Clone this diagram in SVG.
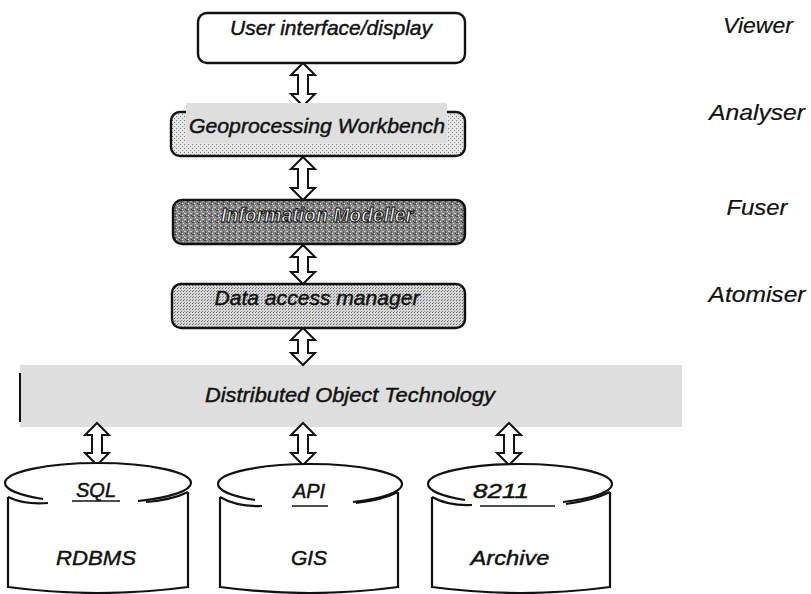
<svg xmlns="http://www.w3.org/2000/svg" width="811" height="594" viewBox="0 0 811 594">
<style>
text{font-family:"Liberation Sans",Arial,sans-serif;font-style:italic;fill:#111;stroke:#111;stroke-width:0.45}
.lbl{font-size:21px}
.side{font-size:22px;stroke-width:0.2}
.box{stroke:#111;stroke-width:2.4}
.arr{fill:#fff;stroke:#111;stroke-width:2;stroke-linejoin:miter}
.ln{fill:none;stroke:#111;stroke-width:2.2}
.db{font-size:21px}
.api{font-size:20px}
.ul{stroke:#111;stroke-width:1.5}
</style>
<defs>
<pattern id="pLight" width="4" height="4" patternUnits="userSpaceOnUse">
<rect width="4" height="4" fill="#e6e6e6"/>
<rect x="0" y="0" width="1" height="1" fill="#777"/>
<rect x="2" y="2" width="1" height="1" fill="#888"/>
</pattern>
<pattern id="pMed" width="3" height="3" patternUnits="userSpaceOnUse">
<rect width="3" height="3" fill="#d6d6d6"/>
<rect x="0" y="0" width="1" height="1" fill="#666"/>
<rect x="1" y="2" width="1" height="1" fill="#888"/>
</pattern>
<pattern id="pDark" width="6" height="6" patternUnits="userSpaceOnUse">
<rect width="6" height="6" fill="#858585"/>
<rect x="0" y="0" width="2" height="1" fill="#444"/>
<rect x="3" y="1" width="1" height="1" fill="#ddd"/>
<rect x="1" y="3" width="1" height="2" fill="#555"/>
<rect x="4" y="3" width="2" height="1" fill="#cfcfcf"/>
<rect x="2" y="5" width="1" height="1" fill="#eee"/>
<rect x="5" y="5" width="1" height="1" fill="#333"/>
</pattern>
</defs>

<g id="band">
<rect x="20" y="365" width="662" height="62" fill="#dedede"/>
<line x1="20" y1="373" x2="20" y2="422" stroke="#111" stroke-width="2"/>
<text x="350" y="402" text-anchor="middle" class="lbl" textLength="290" lengthAdjust="spacingAndGlyphs">Distributed Object Technology</text>
</g>

<g id="connectors">
<path class="arr" d="M303,63 L315,75 L308,75 L308,94 L315,94 L303,106 L291,94 L298,94 L298,75 L291,75 Z"/>
<path class="arr" d="M303,157 L315,169 L308,169 L308,188 L315,188 L303,200 L291,188 L298,188 L298,169 L291,169 Z"/>
<path class="arr" d="M303,245 L315,257 L308,257 L308,272 L315,272 L303,284 L291,272 L298,272 L298,257 L291,257 Z"/>
<path class="arr" d="M303,328 L315,340 L308,340 L308,353 L315,353 L303,365 L291,353 L298,353 L298,340 L291,340 Z"/>
<path class="arr" d="M97,423 L109,435 L102,435 L102,453 L109,453 L97,465 L85,453 L92,453 L92,435 L85,435 Z"/>
<path class="arr" d="M303,423 L315,435 L308,435 L308,453 L315,453 L303,465 L291,453 L298,453 L298,435 L291,435 Z"/>
<path class="arr" d="M509,423 L521,435 L514,435 L514,453 L521,453 L509,465 L497,453 L504,453 L504,435 L497,435 Z"/>
</g>

<g id="ui">
<rect class="box" x="198" y="13" width="267" height="50" rx="9" fill="#fff"/>
<text x="331" y="35" text-anchor="middle" class="lbl" textLength="202" lengthAdjust="spacingAndGlyphs">User interface/display</text>
</g>

<g id="geo">
<rect class="box" x="171" y="112" width="294" height="44" rx="9" fill="url(#pLight)"/>
<rect x="186" y="103" width="261" height="40" fill="#dedede"/>
<text x="317" y="133" text-anchor="middle" class="lbl" textLength="256" lengthAdjust="spacingAndGlyphs">Geoprocessing Workbench</text>
</g>

<g id="info">
<rect class="box" x="173" y="200" width="292" height="44" rx="9" fill="url(#pDark)"/>
<text x="317" y="222" text-anchor="middle" class="lbl" font-weight="bold" style="fill:#fafafa;stroke:#111;stroke-width:1.1" textLength="192" lengthAdjust="spacingAndGlyphs">Information Modeller</text>
</g>

<g id="dam">
<rect class="box" x="172" y="284" width="293" height="44" rx="9" fill="url(#pMed)"/>
<text x="317" y="305" text-anchor="middle" class="lbl" textLength="205" lengthAdjust="spacingAndGlyphs">Data access manager</text>
</g>

<g id="viewer"><text x="758" y="33" text-anchor="middle" class="side" textLength="70" lengthAdjust="spacingAndGlyphs">Viewer</text></g>
<g id="analyser"><text x="757" y="120" text-anchor="middle" class="side" textLength="96" lengthAdjust="spacingAndGlyphs">Analyser</text></g>
<g id="fuser"><text x="757" y="215" text-anchor="middle" class="side" textLength="61" lengthAdjust="spacingAndGlyphs">Fuser</text></g>
<g id="atomiser"><text x="757" y="302" text-anchor="middle" class="side" textLength="97" lengthAdjust="spacingAndGlyphs">Atomiser</text></g>

<g id="rdbms">
<path class="ln" d="M8,497 V587 Q98,599 188,587 V492"/>
<path class="ln" d="M8,497 Q25,505 48,503 M146,502 Q172,500 188,492"/>
<ellipse cx="98" cy="483" rx="93" ry="20" fill="#fff"/>
<path class="ln" d="M5,483 A93,20 0 0 1 191,483 M5,483 A93,20 0 0 0 43,499 M138,501 A93,20 0 0 0 191,483"/>
<text x="96" y="497" text-anchor="middle" class="api">SQL</text>
<line class="ul" x1="72" y1="501" x2="120" y2="501"/>
<text x="96" y="565" text-anchor="middle" class="db" textLength="80" lengthAdjust="spacingAndGlyphs">RDBMS</text>
</g>

<g id="gis">
<path class="ln" d="M220,497 V587 Q310,599 398,587 V492"/>
<path class="ln" d="M220,497 Q237,507 262,506 M356,503 Q382,500 398,492"/>
<ellipse cx="310" cy="484" rx="92" ry="20" fill="#fff"/>
<path class="ln" d="M218,484 A92,20 0 0 1 402,484 M218,484 A92,20 0 0 0 255,500 M353,502 A92,20 0 0 0 402,484"/>
<text x="309" y="498" text-anchor="middle" class="api">API</text>
<line class="ul" x1="292" y1="506" x2="328" y2="506"/>
<text x="309" y="565" text-anchor="middle" class="db">GIS</text>
</g>

<g id="archive">
<path class="ln" d="M432,497 V587 Q521,599 610,587 V492"/>
<path class="ln" d="M432,497 Q448,506 472,505 M566,504 Q594,500 610,492"/>
<ellipse cx="520" cy="484" rx="92" ry="20" fill="#fff"/>
<path class="ln" d="M428,484 A92,20 0 0 1 612,484 M428,484 A92,20 0 0 0 465,500 M563,502 A92,20 0 0 0 612,484"/>
<text x="501" y="498" text-anchor="middle" class="api" textLength="56" lengthAdjust="spacingAndGlyphs">8211</text>
<line class="ul" x1="480" y1="506" x2="555" y2="506"/>
<text x="510" y="565" text-anchor="middle" class="db" textLength="79" lengthAdjust="spacingAndGlyphs">Archive</text>
</g>
</svg>
